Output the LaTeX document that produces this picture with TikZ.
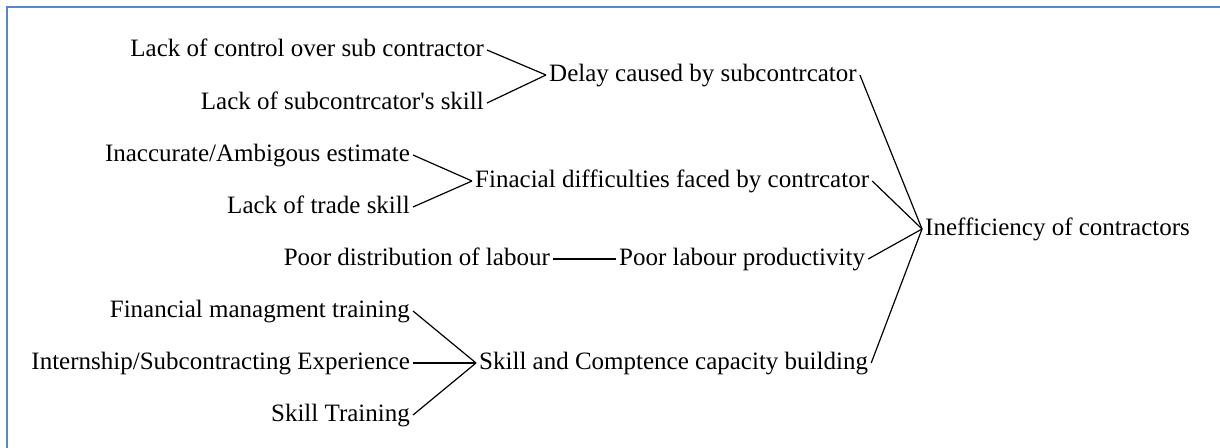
\documentclass[tikz,border=0pt]{standalone}
\usepackage{fontspec}
\setmainfont{Liberation Serif}
\begin{document}
\begin{tikzpicture}[x=1pt,y=-1pt,
  lbl/.style={inner xsep=3pt, inner ysep=0pt, text height=17pt, text depth=5pt,
              font=\fontsize{25}{30}\selectfont},
  link/.style={line width=1.2pt, black},
  frame/.style={draw={rgb,255:red,84;green,136;blue,199}, line width=2.2pt}]
\useasboundingbox (0,0) rectangle (1220,447);
\begin{scope}
\clip (0,0) rectangle (1220,447);
\draw[frame] (7,7) rectangle (1240,470);
\end{scope}

% level 1 (causes)
\node[lbl, anchor=east] (c1) at (487,50)  {Lack of control over sub contractor};
\node[lbl, anchor=east] (c2) at (487,103) {Lack of subcontrcator\textquotesingle s skill};
\node[lbl, anchor=east] (c3) at (413,155) {Inaccurate/Ambigous estimate};
\node[lbl, anchor=east] (c4) at (413,207) {Lack of trade skill};
\node[lbl, anchor=east] (c5) at (553,259) {Poor distribution of labour};
\node[lbl, anchor=east] (c6) at (413,311) {Financial managment training};
\node[lbl, anchor=east] (c7) at (413,363) {Internship/Subcontracting Experience};
\node[lbl, anchor=east] (c8) at (413,415) {Skill Training};

% level 2
\node[lbl, anchor=west] (m1) at (546,75)  {Delay caused by subcontrcator};
\node[lbl, anchor=west] (m2) at (472,181) {Finacial difficulties faced by contrcator};
\node[lbl, anchor=west] (m3) at (616,259) {Poor labour productivity};
\node[lbl, anchor=west] (m4) at (476,363) {Skill and Comptence capacity building};

% target
\node[lbl, anchor=west] (t) at (922,229) {Inefficiency of contractors};

% connectors
\draw[link] (c1.east) -- (m1.west);
\draw[link] (c2.east) -- (m1.west);
\draw[link] (c3.east) -- (m2.west);
\draw[link] (c4.east) -- (m2.west);
\draw[link] (c5.east) -- (m3.west);
\draw[link] (c6.east) -- (m4.west);
\draw[link] (c7.east) -- (m4.west);
\draw[link] (c8.east) -- (m4.west);
\draw[link] (m1.east) -- (t.west);
\draw[link] (m2.east) -- (t.west);
\draw[link] (m3.east) -- (t.west);
\draw[link] (m4.east) -- (t.west);
\end{tikzpicture}
\end{document}
